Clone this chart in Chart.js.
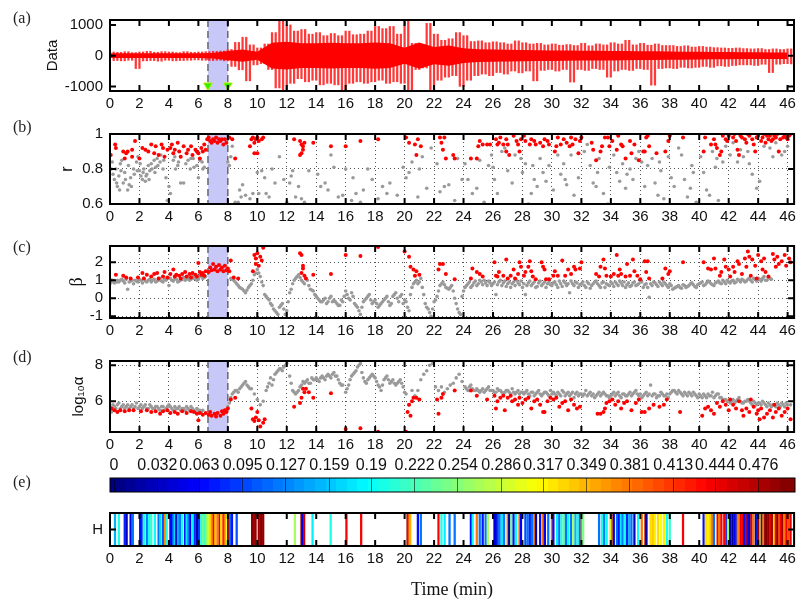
<!DOCTYPE html>
<html>
<head>
<meta charset="utf-8">
<script src="https://cdn.jsdelivr.net/npm/chart.js@4.4.1/dist/chart.umd.min.js"></script>
<style>
body{margin:0;background:#fff;}
#wrap{position:relative;width:800px;height:601px;overflow:hidden;background:#fff;}
#wrap canvas{position:absolute;left:0;}
.lbl{position:absolute;left:13px;font:16px "Liberation Serif",serif;line-height:16px;color:#222;}
</style>
</head>
<body>
<div id="wrap">
  <canvas id="ca" style="top:4px" width="800" height="111"></canvas>
  <canvas id="cb" style="top:118px" width="800" height="110"></canvas>
  <canvas id="cc" style="top:230px" width="800" height="112"></canvas>
  <canvas id="cd" style="top:345px" width="800" height="111"></canvas>
  <canvas id="cbar" style="top:455px" width="800" height="39"></canvas>
  <canvas id="ce" style="top:497px" width="800" height="104"></canvas>
  <div class="lbl" style="top:10px">(a)</div>
  <div class="lbl" style="top:119px">(b)</div>
  <div class="lbl" style="top:239px">(c)</div>
  <div class="lbl" style="top:349px">(d)</div>
  <div class="lbl" style="top:474px">(e)</div>
</div>
<script>
// ================= DATA =================
const X_MAX = 46.44;
const xTicks = [0,2,4,6,8,10,12,14,16,18,20,22,24,26,28,30,32,34,36,38,40,42,44,46];
const bandFrom = 6.65, bandTo = 8.0;

// (a) signal: extremes every 15 s (alternating upper / lower peak), and dense core half-width per minute
const SIG_STEP = 0.25;
const sigPeaks = [
  120,-160,110,-170,130,-150,100,-420,120,-170,140,-160,110,-180,130,-150,120,-170,100,-160,
  130,-150,110,-140,120,-150,130,-160,140,-150,150,-170,200,-350,430,-460,600,-820,350,-300,
  250,-260,380,-450,750,-1050,1150,-1120,1000,-900,800,-750,850,-850,700,-800,750,-950,650,-900,
  720,-950,650,-1130,800,-900,680,-850,700,-900,800,-850,950,-800,880,-900,950,-850,700,-900,
  1150,-1150,400,-450,350,-400,1050,-1150,700,-800,500,-700,550,-650,750,-1000,650,-800,460,-650,
  480,-600,420,-650,450,-550,420,-600,380,-500,480,-560,420,-500,380,-820,400,-480,350,-450,
  380,-500,340,-450,360,-860,330,-450,400,-480,320,-420,380,-450,350,-700,420,-500,380,-450,
  500,-480,350,-420,400,-450,340,-960,380,-420,330,-400,330,-420,300,-380,320,-400,280,-380,
  300,-350,280,-380,260,-330,250,-350,240,-320,250,-300,230,-300,220,-320,230,-280,200,-550,
  220,-280,200,-260,220,-270
];
const coreAmp = [80,80,80,80,80,80,80,90,150,200,130,420,450,400,400,420,400,400,430,400,
  260,430,280,330,240,210,200,190,180,175,170,165,160,160,155,150,145,140,135,130,125,120,115,
  110,110,105,105];
const greenMarks = [[6.65,-970],[8.0,-970]];

// (b) r
const rRed = [
  [0.05,0.88],[0.35,0.94],[0.4,0.92],[0.9,0.9],[1.0,0.86],[1.1,0.89],[1.2,0.9],[1.5,0.91],[1.5,0.87],[1.7,0.96],
  [2.0,0.86],[2.2,0.92],[2.4,0.91],[2.6,0.9],[2.8,0.94],[3.0,0.89],[3.1,0.93],[3.3,0.88],[3.5,0.94],[3.6,0.92],[3.7,0.87],[3.9,0.91],
  [4.1,0.92],[4.2,0.94],[4.3,0.89],[4.4,0.91],[4.6,0.95],[4.7,0.9],[4.8,0.87],[5.0,0.93],[5.2,0.89],[5.3,0.91],[5.5,0.93],[5.6,0.88],[5.8,0.91],[5.9,0.9],[6.0,0.89],
  [6.1,0.86],[6.2,0.92],[6.3,0.9],[6.4,0.94],[6.5,0.91],[6.6,0.97],[6.7,0.98],[6.8,0.96],[6.9,0.95],[7.0,0.97],[7.1,0.96],[7.2,0.98],[7.3,0.95],
  [7.4,0.97],[7.5,0.96],[7.6,0.97],[7.7,0.94],[7.8,0.97],[7.9,0.95],[8.1,0.98],[8.3,0.97],
  [8.5,0.86],[9.5,0.93],[9.6,0.97],[9.7,0.98],[9.8,0.95],[9.9,0.97],[10.0,0.98],[10.1,0.96],[10.3,0.97],[10.4,0.98],[9.8,0.89],[10.0,0.89],
  [12.5,0.97],[12.9,0.96],[13.0,0.94],[13.1,0.93],[13.1,0.91],[13.0,0.89],[12.9,0.88],[13.2,0.95],[13.8,0.95],
  [15.0,0.93],[16.0,0.93],[17.0,0.96],[18.2,0.97],[20.1,0.98],[20.3,0.95],[20.7,0.94],[20.9,0.97],[21.1,0.93],[20.8,0.88],
  [22.4,0.98],[22.5,0.95],[22.7,0.98],[22.6,0.91],[22.8,0.86],[23.3,0.88],[23.4,0.86],
  [24.5,0.86],[24.9,0.86],[25.0,0.93],[25.1,0.96],[25.3,0.94],[25.6,0.94],[25.8,0.94],
  [26.2,0.97],[26.3,0.94],[26.4,0.95],[26.5,0.98],[26.7,0.94],[26.9,0.97],[27.0,0.94],[26.9,0.9],[27.1,0.88],[27.4,0.99],[27.6,0.96],[27.7,0.94],[27.8,0.9],[27.9,0.97],
  [28.1,0.99],[28.2,0.96],[28.5,0.94],[28.6,0.97],[28.8,0.96],[28.9,0.94],[29.2,0.95],[29.4,0.93],[29.5,0.97],[29.7,0.96],[29.8,0.94],
  [30.2,0.9],[30.3,0.93],[30.4,0.98],[30.6,0.94],[30.8,0.97],[31.0,0.95],[31.2,0.93],[31.3,0.98],[31.4,0.94],[31.6,0.97],[31.8,0.89],[31.9,0.96],[32.0,0.98],
  [32.7,0.95],[32.8,0.91],[33.0,0.85],[33.3,0.9],[33.4,0.93],[33.6,0.98],[33.8,0.98],[33.9,0.93],[34.1,0.96],
  [34.4,0.91],[34.5,0.99],[34.7,0.94],[34.8,0.93],[35.0,0.86],[35.3,0.96],[35.4,0.89],[35.6,0.94],[35.9,0.85],[36.2,0.9],
  [36.4,0.98],[36.5,0.99],[36.3,0.9],[36.6,0.93],[37.1,0.89],[37.7,0.9],[37.9,0.96],[38.0,0.99],[38.9,0.98],
  [40.3,0.9],[40.4,0.98],[40.8,0.94],[41.0,0.97],[41.1,0.94],[41.2,0.92],[41.4,0.88],[41.5,0.9],[41.6,0.99],[41.8,0.97],[41.9,0.96],[42.0,0.99],
  [42.3,0.98],[42.5,0.96],[42.6,0.91],[42.7,0.88],[42.8,0.99],[43.1,0.97],[43.2,0.95],[43.4,0.99],[43.6,0.97],[43.7,0.94],[43.8,0.9],[44.0,0.99],
  [44.2,0.96],[44.3,0.98],[44.5,0.95],[44.6,0.99],[44.7,0.97],[44.9,0.96],[45.1,0.99],[45.2,0.98],[45.4,0.9],[45.5,0.97],[45.8,0.99],[45.9,0.98],
  [46.1,0.99],[46.2,1.0],[42.4,1.0],[42.9,0.98],[43.3,1.0],[43.9,0.98],[44.4,1.0],[44.8,0.99],[45.0,0.97],[45.3,1.0],[45.7,0.98],[46.0,0.97]
];
const rGray = [
  [0.1,0.8],[0.2,0.77],[0.3,0.74],[0.4,0.8],[0.5,0.7],[0.6,0.76],[0.7,0.83],[0.8,0.85],[0.9,0.72],[1.0,0.78],[1.2,0.68],[1.3,0.71],[1.4,0.75],[1.6,0.8],[1.8,0.84],[1.9,0.87],
  [2.0,0.79],[2.1,0.76],[2.2,0.74],[2.3,0.8],[2.4,0.73],[2.5,0.77],[2.6,0.82],[2.7,0.79],[2.8,0.83],[3.0,0.85],[3.1,0.81],[3.2,0.86],[3.4,0.84],[3.6,0.8],[3.8,0.75],[3.9,0.62],[4.0,0.7],[4.1,0.66],
  [4.3,0.85],[4.4,0.87],[4.6,0.82],[4.8,0.72],[5.0,0.72],[5.3,0.85],[5.5,0.86],[5.7,0.81],[5.9,0.82],[6.0,0.75],[6.1,0.85],[6.3,0.8],[6.4,0.81],
  [0.15,0.84],[0.45,0.72],[0.65,0.68],[0.75,0.79],[1.05,0.74],[1.25,0.82],[1.45,0.7],[1.65,0.77],[1.85,0.79],[2.05,0.83],[2.25,0.78],[2.45,0.76],
  [2.65,0.74],[2.85,0.8],[3.05,0.78],[3.25,0.82],[3.45,0.88],[3.65,0.85],[4.45,0.8],[4.65,0.84],[5.15,0.83],[5.45,0.8],[5.65,0.86],[6.25,0.84],
  [8.0,0.84],[8.1,0.82],[8.2,0.87],[8.3,0.93],[8.5,0.61],[8.7,0.61],[8.8,0.68],[8.9,0.64],[9.0,0.71],[9.2,0.65],[9.5,0.63],[9.7,0.66],[10.0,0.78],[10.1,0.66],[10.3,0.79],
  [10.5,0.75],[10.6,0.66],[10.8,0.64],[11.0,0.8],[11.2,0.72],[11.5,0.87],[11.8,0.74],[12.0,0.61],[12.2,0.72],[12.3,0.76],[12.4,0.79],[12.6,0.64],[12.8,0.7],[13.0,0.63],[13.2,0.61],[13.5,0.79],
  [14.1,0.77],[14.3,0.7],[14.6,0.72],[14.8,0.68],[15.0,0.88],[15.2,0.81],[15.5,0.64],[15.8,0.65],[16.0,0.8],[16.4,0.62],[16.5,0.75],[16.7,0.66],[17.0,0.61],[17.2,0.68],[17.5,0.8],[17.8,0.74],
  [18.2,0.63],[18.5,0.7],[18.8,0.66],[19.0,0.72],[19.5,0.65],[19.9,0.81],
  [20.1,0.75],[20.3,0.78],[20.5,0.84],[20.9,0.64],[21.0,0.8],[21.2,0.87],[21.5,0.69],[21.8,0.92],[22.2,0.83],[22.4,0.67],[22.7,0.7],[23.0,0.71],[23.4,0.62],[23.6,0.86],[23.9,0.74],
  [24.1,0.83],[24.3,0.74],[24.6,0.66],[24.9,0.69],[25.1,0.85],[25.4,0.61],[25.7,0.82],[25.9,0.88],
  [26.0,0.81],[26.1,0.74],[26.3,0.66],[26.6,0.9],[26.8,0.92],[27.0,0.79],[27.3,0.72],[27.5,0.88],[27.9,0.86],[28.0,0.78],
  [28.2,0.83],[28.4,0.6],[28.6,0.66],[28.7,0.82],[28.8,0.74],[29.0,0.7],[29.2,0.86],[29.4,0.78],[29.6,0.73],[29.8,0.82],
  [30.1,0.68],[30.4,0.88],[30.6,0.77],[30.8,0.83],[30.9,0.74],[31.0,0.71],[31.3,0.88],[31.5,0.65],[31.8,0.75],
  [32.2,0.9],[32.4,0.94],[32.6,0.82],[32.8,0.72],[33.0,0.7],[33.1,0.78],[33.2,0.86],[33.5,0.66],[33.8,0.6],[33.9,0.81],
  [34.2,0.88],[34.4,0.78],[34.6,0.73],[34.8,0.83],[35.0,0.69],[35.1,0.77],[35.3,0.8],[35.5,0.74],[35.7,0.86],[35.9,0.9],
  [36.1,0.84],[36.3,0.7],[36.5,0.82],[36.8,0.86],[37.0,0.72],[37.2,0.65],[37.3,0.84],[37.4,0.79],[37.6,0.63],[37.9,0.87],
  [38.1,0.75],[38.3,0.7],[38.6,0.92],[38.8,0.88],[39.0,0.74],[39.2,0.64],[39.4,0.69],[39.5,0.82],[39.6,0.78],[39.8,0.61],
  [40.1,0.87],[40.3,0.78],[40.5,0.68],[40.7,0.65],[40.9,0.9],[41.1,0.81],[41.2,0.86],[41.3,0.62],[41.6,0.84],[41.8,0.93],
  [42.1,0.88],[42.3,0.95],[42.6,0.84],[42.8,0.91],[43.0,0.87],[43.3,0.9],[43.4,0.83],[43.6,0.77],[43.9,0.69],[44.1,0.73],
  [44.4,0.93],[44.8,0.92],[45.0,0.87],[45.2,0.95],[45.6,0.88],[45.8,0.9],[46.0,0.93]
];

// (c) beta
const bRed = [
  [0.0,1.0],[0.4,1.3],[0.9,1.25],[1.1,1.15],[1.4,1.1],[1.9,1.15],[2.2,1.4],[2.3,1.1],[2.5,1.3],[2.8,1.2],[3.0,1.35],[3.2,1.4],[3.3,1.1],[3.6,1.2],[3.7,1.45],[3.9,1.15],
  [4.1,1.35],[4.3,1.6],[4.4,1.2],[4.5,1.3],[4.7,1.25],[4.8,1.1],[4.9,1.35],[5.1,1.45],[5.2,1.2],[5.4,1.35],[5.5,1.15],[5.6,1.4],[5.8,1.3],[5.9,1.2],[6.0,1.95],
  [6.1,1.45],[6.2,1.3],[6.3,1.4],[6.4,1.25],[6.5,1.5],[6.7,1.45],[6.8,1.7],[6.9,1.55],[7.0,1.9],[7.1,1.6],[7.2,1.75],[7.3,1.5],[7.4,1.85],[7.5,1.6],[7.6,1.7],
  [7.7,1.5],[7.8,1.8],[7.9,1.55],[8.0,1.65],[8.1,1.5],[8.2,2.1],[8.4,1.15],[8.7,1.1],[9.7,1.5],[9.8,2.4],[9.9,2.2],[10.0,2.5],[10.1,1.8],[10.2,2.3],[10.3,2.1],[10.4,2.8],[9.9,1.9],
  [12.9,2.5],[13.0,2.4],[13.1,1.8],[13.1,1.65],[13.0,1.4],[13.2,1.25],[13.3,1.1],[13.8,1.3],[15.0,1.35],[16.0,2.4],[17.0,2.35],[18.2,2.85],
  [20.0,2.6],[20.3,2.3],[20.4,1.75],[20.6,1.6],[20.8,1.5],[21.0,1.3],[20.7,1.25],[22.3,1.6],[22.4,1.9],[22.6,1.9],[22.8,1.35],[23.4,1.05],
  [24.5,1.1],[24.6,1.65],[24.9,1.45],[25.1,1.35],[25.3,1.2],
  [26.1,2.0],[26.2,1.25],[26.3,1.2],[26.4,1.45],[26.7,1.25],[26.9,2.15],[27.0,1.1],[27.2,1.25],[27.4,1.6],[27.5,1.1],[27.7,1.35],[27.8,2.0],[27.9,1.75],
  [28.1,1.25],[28.2,1.45],[28.4,1.75],[28.5,2.05],[28.6,1.5],[28.7,1.2],[28.9,1.05],[29.3,2.0],[29.4,1.75],[29.5,1.6],[29.6,1.05],[29.8,1.05],
  [30.1,1.25],[30.2,1.5],[30.4,1.25],[30.7,2.1],[30.9,1.25],[31.1,1.6],[31.3,1.35],[31.5,1.75],[31.6,1.6],[31.9,1.65],[32.0,2.0],
  [33.0,1.35],[33.2,1.2],[33.3,1.75],[33.5,2.15],[33.6,1.65],[33.7,1.25],[34.0,1.2],[34.2,1.35],[34.4,2.4],
  [34.5,1.25],[34.6,1.6],[34.7,1.35],[35.0,1.2],[35.1,1.9],[35.3,1.25],[35.5,2.15],[35.6,1.5],[35.8,1.25],[36.0,1.05],
  [36.3,2.05],[36.5,2.05],[36.4,1.45],[36.6,1.1],[37.5,1.1],[37.7,1.65],[37.9,1.35],[38.0,1.5],[38.9,2.0],
  [40.3,2.0],[40.6,1.65],[40.8,1.6],[41.0,2.2],[41.1,1.65],[41.4,1.25],[41.5,1.45],[41.7,2.15],[41.8,1.75],[42.0,1.6],[42.1,1.2],
  [42.3,1.75],[42.4,1.45],[42.6,2.05],[42.7,1.9],[42.9,1.35],[43.1,2.2],[43.2,1.75],[43.3,2.6],[43.4,2.3],[43.5,1.25],[43.6,2.15],[43.8,1.8],[43.9,1.1],[44.0,2.4],
  [44.2,2.05],[44.3,1.6],[44.4,2.2],[44.5,1.45],[44.7,1.2],[45.0,2.45],[45.1,2.15],[45.2,1.75],[45.3,2.3],[45.4,1.9],[45.6,2.05],[45.8,2.4],[45.9,1.8],[46.1,2.2],[46.2,2.0]
];
const bGray = [
  [0.0,0.8],[0.1,0.9],[0.2,1.0],[0.3,0.85],[0.5,1.0],[0.6,0.9],[0.8,1.05],[0.9,0.95],[1.0,0.85],[1.2,0.5],[1.3,0.9],[1.5,1.0],[1.6,0.8],[1.8,0.95],[2.0,1.05],
  [2.2,0.85],[2.4,0.95],[2.6,1.0],[2.8,0.9],[3.0,1.05],[3.2,0.95],[3.4,1.1],[3.6,0.9],[3.8,1.0],[4.0,0.7],[4.1,1.1],[4.3,0.95],[4.5,1.05],[4.7,0.95],[4.9,1.1],
  [5.1,1.0],[5.3,1.15],[5.5,1.05],[5.7,1.1],[5.9,1.0],[6.1,1.2],[6.3,1.1],[6.5,1.2],
  [0.05,1.0],[0.25,0.95],[0.45,0.9],[0.7,1.0],[1.1,1.05],[1.4,0.95],[1.7,1.0],[1.9,0.9],[2.1,1.0],[2.3,1.1],[2.5,0.9],[2.7,1.05],[2.9,1.0],[3.1,0.9],
  [3.3,1.0],[3.5,0.95],[3.7,1.05],[3.9,1.1],[4.2,1.0],[4.4,1.1],[4.6,0.9],[4.8,1.0],[5.0,1.15],[5.2,1.05],[5.4,1.0],[5.6,1.2],[5.8,1.1],[6.0,1.05],[6.2,1.25],[6.4,1.15],
  [8.2,1.1],[8.4,1.0],[8.6,0.8],[8.8,0.6],[9.0,0.5],[9.2,0.3],[9.4,0.6],[9.6,0.8],[9.8,1.3],[10.0,1.6],[10.2,1.2],[10.4,0.7],[10.5,0.2],[10.7,0.0],[10.9,-0.3],
  [8.3,1.05],[8.5,0.9],[8.7,0.7],[8.9,0.55],[9.1,0.4],[9.3,0.45],[9.5,0.7],[9.7,1.0],[9.9,1.4],[10.1,1.4],[10.3,0.9],[10.6,0.1],[10.8,-0.1],
  [11.1,-0.6],[11.3,-0.8],[11.5,-0.5],[11.7,-0.3],[11.9,-0.9],[12.0,-0.7],[12.2,0.3],[12.4,0.8],[12.6,1.1],[12.8,1.3],[13.0,1.0],[13.2,0.8],[13.4,1.0],[13.6,0.5],[13.8,0.4],
  [11.0,-0.4],[11.2,-0.7],[11.4,-0.9],[11.6,-0.4],[11.8,-0.6],[12.1,-0.2],[12.3,0.5],[12.5,1.0],[12.7,1.2],[12.9,1.15],[13.1,0.9],[13.3,1.1],[13.5,0.7],[13.7,0.45],[13.9,0.2],
  [14.0,0.1],[14.2,-0.1],[14.4,-0.2],[14.6,0.0],[14.8,-0.2],[15.0,0.1],[15.2,-0.1],[15.4,-0.3],[15.6,-0.4],[15.8,-0.2],[16.0,0.4],[16.2,0.0],[16.4,0.3],[16.6,-0.3],
  [14.1,0.0],[14.3,-0.2],[14.5,-0.1],[14.7,-0.3],[14.9,0.0],[15.1,-0.2],[15.3,-0.2],[15.5,-0.4],[15.7,-0.1],[15.9,0.1],[16.1,0.2],[16.3,-0.1],[16.5,0.1],[16.7,-0.4],
  [16.8,-0.5],[17.0,-0.9],[17.2,-0.2],[17.4,0.0],[17.6,0.2],[17.8,-0.3],[18.0,-0.1],[18.2,-0.5],[18.4,-0.3],[18.6,-0.1],[18.8,0.1],[19.0,-0.4],[19.2,0.1],[19.4,0.3],
  [16.9,-0.7],[17.1,-0.5],[17.3,-0.1],[17.5,0.1],[17.7,-0.1],[17.9,-0.2],[18.1,-0.3],[18.3,-0.4],[18.5,-0.2],[18.7,0.0],[18.9,-0.2],[19.1,-0.3],[19.3,0.2],[19.5,0.0],
  [19.6,-0.2],[19.8,0.2],[20.0,-0.1],[19.7,0.1],[19.9,-0.3],
  [20.1,-0.2],[20.2,-0.5],[20.3,-0.7],[20.5,0.6],[20.7,0.9],[20.9,0.8],[21.1,1.1],[21.3,0.2],[21.4,-0.3],[21.6,-0.6],[21.8,-1.0],[22.0,-0.2],[22.2,0.1],[22.4,0.7],
  [20.4,0.2],[20.6,0.8],[20.8,1.0],[21.0,0.9],[21.2,0.6],[21.5,-0.5],[21.7,-0.8],[21.9,-0.6],[22.1,-0.1],[22.3,0.4],[22.5,0.8],[22.7,0.75],[22.9,0.55],
  [22.6,0.9],[22.8,0.6],[23.0,0.5],[23.2,0.7],[23.5,-0.3],[23.6,-0.6],[23.8,-0.9],[24.0,0.4],[24.2,0.7],
  [23.1,0.6],[23.3,0.4],[23.4,0.0],[23.7,-0.8],[23.9,0.1],[24.1,0.6],
  [24.4,0.9],[24.6,0.7],[24.8,0.95],[25.0,0.8],[25.2,0.9],[25.4,1.0],[25.6,0.7],[25.8,0.85],[26.0,0.8],[26.2,0.2],[26.4,0.9],[26.6,0.7],[26.8,0.95],[27.0,0.8],
  [27.2,0.6],[27.4,0.9],[27.6,1.0],[27.8,0.75],[28.0,0.6],[28.2,0.2],[28.4,0.85],[28.6,0.7],[28.8,0.9],[29.0,0.65],[29.2,0.95],[29.4,0.8],[29.6,0.6],[29.8,0.9],[30.0,0.7],
  [30.2,0.9],[30.4,0.6],[30.6,0.8],[30.8,0.95],[31.0,0.7],[31.2,0.3],[31.4,0.8],[31.6,0.9],[31.8,0.6],[32.0,0.8],[32.2,0.7],[32.4,0.9],[32.6,0.55],[32.8,0.8],
  [33.0,0.95],[33.2,0.7],[33.4,0.85],[33.6,0.6],[33.8,0.75],[34.0,0.9],[34.2,0.65],[34.4,0.8],[34.6,0.95],[34.8,0.7],[35.0,0.6],[35.2,0.85],[35.4,0.7],[35.6,0.9],
  [35.8,0.75],[36.0,0.95],[36.2,0.6],[36.4,0.8],[36.6,0.05],[36.8,0.7],[37.0,0.85],[37.2,0.65],[37.4,0.8],[37.6,0.9],[37.8,0.7],[38.0,0.8],
  [24.3,0.8],[24.5,0.6],[24.7,0.85],[24.9,0.7],[25.1,1.0],[25.3,0.75],[25.5,0.85],[25.7,0.95],[25.9,0.7],[26.1,0.9],[26.3,0.75],[26.5,1.0],[26.7,0.85],[26.9,0.65],
  [27.1,0.9],[27.3,0.8],[27.5,0.7],[27.7,0.85],[27.9,0.95],[28.1,0.8],[28.3,0.7],[28.5,0.95],[28.7,0.8],[28.9,0.6],[29.1,0.85],[29.3,0.7],[29.5,0.9],[29.7,0.8],
  [29.9,0.75],[30.1,0.85],[30.3,0.75],[30.5,0.95],[30.7,0.65],[30.9,0.85],[31.1,0.8],[31.3,0.95],[31.5,0.7],[31.7,0.85],[31.9,0.75],[32.1,0.9],[32.3,0.6],[32.5,0.8],
  [32.7,0.7],[32.9,0.9],[33.1,0.8],[33.3,0.6],[33.5,0.9],[33.7,0.8],[33.9,0.7],[34.1,0.8],[34.3,0.9],[34.5,0.7],[34.7,0.85],[34.9,0.9],[35.1,0.75],[35.3,0.65],
  [35.5,0.85],[35.7,0.7],[35.9,0.8],[36.1,0.9],[36.3,0.75],[36.5,0.6],[36.7,0.8],[36.9,0.9],[37.1,0.75],[37.3,0.9],[37.5,0.7],[37.7,0.8],[37.9,0.6],
  [38.2,0.5],[38.4,0.6],[38.6,0.7],[38.8,0.55],[39.0,0.7],[39.2,0.65],[39.4,0.8],[39.6,0.75],[39.8,0.6],[40.0,0.8],[40.2,0.9],[40.4,0.75],[40.6,0.95],[40.8,0.8],
  [41.0,0.7],[41.2,0.9],[41.4,0.85],[41.6,1.0],[41.8,0.8],[42.0,0.9],[42.2,0.95],[42.4,0.85],[42.6,1.05],[42.8,0.9],[43.0,1.0],[43.2,0.95],[43.4,1.1],[43.6,0.9],
  [43.8,1.05],[44.0,1.1],[44.2,0.95],[44.4,1.2],[44.6,1.0],[44.8,1.1],
  [38.1,0.7],[38.3,0.55],[38.5,0.65],[38.7,0.6],[38.9,0.75],[39.1,0.6],[39.3,0.7],[39.5,0.85],[39.7,0.65],[39.9,0.75],[40.1,0.85],[40.3,0.7],[40.5,0.85],
  [40.7,0.9],[40.9,0.75],[41.1,0.85],[41.3,0.95],[41.5,0.8],[41.7,0.9],[41.9,1.0],[42.1,0.85],[42.3,1.0],[42.5,0.9],[42.7,1.0],[42.9,1.05],[43.1,0.9],
  [43.3,1.05],[43.5,1.0],[43.7,1.1],[43.9,0.95],[44.1,1.05],[44.3,1.1],[44.5,1.0],[44.7,1.15],[44.9,1.05]
];

// (d) log10 alpha
const aRed = [
  [0.1,5.6],[0.3,5.5],[0.5,5.4],[0.7,5.5],[1.0,5.45],[1.3,5.5],[1.6,5.5],[2.1,5.45],[2.5,5.5],[2.8,5.4],[3.1,5.45],[3.4,5.3],[3.6,5.45],[3.9,5.5],[4.1,5.35],
  [4.4,5.4],[4.6,5.3],[4.9,5.45],[5.2,5.35],[5.5,5.45],[5.7,5.4],[5.9,5.3],[6.0,4.95],[6.1,5.35],[6.3,5.25],[6.5,5.35],[6.7,5.25],[6.8,5.4],[6.9,5.2],[7.1,5.3],
  [7.2,5.15],[7.3,5.35],[7.5,5.2],[7.6,5.45],[7.7,5.3],[7.8,5.5],[7.9,5.4],[8.0,5.6],[8.2,6.1],[8.5,6.2],[9.6,5.6],[9.7,5.0],[9.8,4.9],[9.9,5.1],[10.0,5.4],
  [10.1,4.95],[10.2,4.6],[10.4,4.8],[10.5,5.0],[12.5,5.7],[12.9,5.9],[13.1,6.7],[13.2,6.5],[13.3,6.7],[13.0,6.2],[13.5,6.5],[13.8,6.2],[15.0,6.45],
  [16.0,4.45],[17.0,4.5],[18.2,4.3],[20.1,4.3],
  [20.2,5.4],[20.3,5.8],[20.5,6.0],[20.6,6.2],[20.8,6.2],[21.0,6.1],[20.4,5.2],[22.2,6.1],[22.3,5.3],[22.5,6.2],[22.6,6.4],[23.4,6.6],[24.5,6.6],[24.9,6.3],[25.6,6.1],
  [26.1,6.3],[26.2,5.6],[26.3,6.0],[26.5,6.2],[26.7,6.3],[26.8,5.5],[27.0,6.2],[27.2,6.3],[27.3,6.0],[27.5,6.1],[27.7,5.8],[27.8,6.2],[28.0,5.9],
  [28.2,6.1],[28.4,6.2],[28.6,5.6],[28.8,6.0],[29.0,6.1],[29.2,5.8],[29.4,5.4],[29.5,5.4],[29.7,6.0],[29.9,6.2],
  [30.1,6.1],[30.3,6.2],[30.5,5.7],[30.7,5.9],[30.9,6.0],[31.1,5.5],[31.3,6.1],[31.5,5.8],[31.7,5.6],[31.9,5.7],
  [33.1,5.3],[33.3,5.3],[33.5,5.4],[33.6,5.6],[33.7,5.9],[33.9,6.0],[34.1,6.1],
  [34.3,5.8],[34.5,6.0],[34.7,5.6],[34.9,5.9],[35.1,6.0],[35.4,5.5],[35.7,5.9],[35.9,6.1],
  [36.1,5.4],[36.3,5.4],[36.6,5.6],[36.9,5.8],[37.3,5.7],[37.6,5.8],[37.8,6.1],[38.7,5.4],
  [40.2,5.2],[40.4,5.6],[40.6,5.7],[40.8,5.5],[41.0,5.3],[41.2,5.9],[41.4,5.7],[41.6,6.0],[41.8,5.8],[42.0,5.5],
  [42.1,6.1],[42.3,5.8],[42.5,5.6],[42.7,6.0],[42.9,5.5],[43.0,5.2],[43.2,5.6],[43.4,5.4],[43.5,6.1],[43.7,5.7],[43.9,5.3],[44.0,5.5],
  [44.2,5.6],[44.4,5.1],[44.6,5.3],[44.8,5.5],[45.0,5.1],[45.2,5.4],[45.4,5.6],[45.6,5.2],[45.8,5.4],[46.0,5.6],[46.2,5.0],[45.1,5.8],[44.1,5.0]
];
const aGray = [
  [0.0,5.7],[0.1,5.4],[0.2,5.8],[0.4,5.6],[0.6,5.9],[0.8,5.7],[1.0,5.6],[1.2,5.8],[1.4,5.7],[1.6,5.6],[1.8,5.9],[2.0,5.7],[2.2,5.6],[2.4,5.8],[2.6,5.6],
  [2.8,5.7],[3.0,5.6],[3.2,5.7],[3.4,5.5],[3.6,5.7],[3.8,5.6],[4.0,5.8],[4.2,5.6],[4.4,5.7],[4.6,5.6],[4.8,5.5],[5.0,5.6],[5.2,5.7],[5.4,5.5],[5.6,5.6],
  [5.8,5.4],[6.0,5.5],[6.2,5.4],
  [0.3,5.7],[0.5,5.8],[0.7,5.6],[0.9,5.8],[1.1,5.7],[1.3,5.6],[1.5,5.8],[1.7,5.7],[1.9,5.6],[2.1,5.8],[2.3,5.7],[2.5,5.6],[2.7,5.8],[2.9,5.6],[3.1,5.7],
  [3.3,5.6],[3.5,5.7],[3.7,5.5],[3.9,5.7],[4.1,5.7],[4.3,5.5],[4.5,5.6],[4.7,5.7],[4.9,5.6],[5.1,5.5],[5.3,5.6],[5.5,5.7],[5.7,5.5],[5.9,5.6],[6.1,5.5],[6.3,5.5],
  [8.0,5.7],[8.2,6.2],[8.4,6.5],[8.6,6.6],[8.8,6.7],[9.0,6.9],[9.2,7.1],[9.4,6.8],[9.6,6.7],[9.8,6.4],[10.0,6.1],[10.2,5.8],[10.4,6.0],[10.6,6.6],[10.8,7.0],
  [8.1,5.9],[8.3,6.4],[8.5,6.6],[8.7,6.5],[8.9,6.8],[9.1,7.0],[9.3,6.9],[9.5,6.7],[10.7,6.8],[10.9,7.3],
  [11.0,6.9],[11.2,7.5],[11.4,7.7],[11.6,7.8],[11.8,7.9],[12.0,8.1],[12.2,7.4],[12.4,6.6],[12.6,6.4],[12.8,6.6],[13.0,6.9],
  [11.1,7.2],[11.3,7.6],[11.5,7.8],[11.7,7.7],[11.9,8.0],[12.3,7.0],[12.5,6.5],[12.7,6.5],[12.9,6.8],
  [13.2,7.0],[13.4,7.2],[13.6,7.0],[13.8,7.2],[14.0,7.3],[14.2,7.1],[14.4,7.4],[14.6,7.2],[14.8,7.5],[15.0,7.3],[15.2,7.6],[15.4,7.4],[15.6,7.0],[15.8,6.9],
  [13.1,7.1],[13.3,7.1],[13.5,7.0],[13.7,7.3],[13.9,7.2],[14.1,7.2],[14.3,7.3],[14.5,7.3],[14.7,7.4],[14.9,7.4],[15.1,7.5],[15.3,7.4],[15.5,7.2],[15.7,6.9],
  [16.0,6.5],[16.2,6.9],[16.4,7.4],[16.6,7.6],[16.8,7.9],[17.0,8.1],[17.2,7.3],[17.4,7.0],[17.6,7.3],[17.8,7.5],[18.0,7.3],[18.2,6.9],[18.4,6.6],[18.6,7.2],
  [16.1,6.7],[16.3,7.2],[16.5,7.5],[16.7,7.7],[16.9,8.0],[17.1,7.6],[17.3,7.1],[17.5,7.2],[17.7,7.4],[17.9,7.4],[18.1,7.1],[18.3,6.8],[18.5,6.9],
  [18.8,7.4],[19.0,7.0],[19.2,7.2],[19.4,6.9],[19.6,7.1],[19.8,7.0],[20.0,6.5],
  [18.7,7.3],[18.9,7.2],[19.1,7.1],[19.3,7.0],[19.5,7.0],[19.7,7.2],[19.9,6.8],
  [20.1,6.4],[20.3,5.8],[20.5,6.6],[20.7,6.3],[20.9,6.6],[21.1,7.2],[21.3,7.5],[21.5,7.7],[21.7,8.0],[21.9,8.1],[22.1,6.8],[22.3,6.6],[22.5,6.8],[22.7,6.5],
  [22.9,6.7],[23.1,6.9],[23.3,7.0],[23.5,7.3],[23.7,7.5],[23.9,7.1],[24.1,6.8],[24.3,6.6],[24.5,6.9],[24.7,6.6],[24.9,6.7],[25.1,6.5],[25.3,6.7],[25.5,6.6],
  [25.7,6.8],[25.9,6.6],[26.1,6.5],[26.3,6.7],[26.5,6.6],[26.7,6.4],[26.9,6.6],[27.1,6.5],[27.3,6.7],[27.5,6.4],[27.7,6.6],[27.9,6.5],[28.1,6.4],[28.3,6.6],
  [28.5,6.3],[28.7,6.5],[28.9,6.4],[29.1,6.6],[29.3,6.3],[29.5,6.5],[29.7,6.4],[29.9,6.6],[30.1,6.5],[30.3,6.3],[30.5,6.4],[30.7,6.6],[30.9,6.3],[31.1,6.5],
  [31.3,6.4],[31.5,6.2],[31.7,6.5],[31.9,6.4],[32.1,6.3],[32.3,6.6],[32.5,6.4],[32.7,6.3],[32.9,6.2],[33.1,6.4],[33.3,6.3],[33.5,6.5],[33.7,6.3],[33.9,6.2],
  [34.1,6.4],[34.3,6.3],[34.5,6.5],[34.7,6.2],[34.9,6.4],[35.1,6.3],[35.3,6.5],[35.5,6.4],[35.7,6.6],[35.9,6.3],[36.1,6.2],[36.3,6.4],[36.5,6.3],[36.7,6.9],
  [36.9,6.4],[37.1,6.2],[37.3,6.3],[37.5,6.4],[37.7,6.3],[37.9,6.2],[38.1,6.5],[38.3,6.6],[38.5,6.4],[38.7,6.5],[38.9,6.3],[39.1,6.4],[39.3,6.5],[39.5,6.3],
  [39.7,6.4],[39.9,6.2],[40.1,6.3],[40.3,6.4],[40.5,6.2],[40.7,6.3],[40.9,6.5],[41.1,6.3],[41.3,6.4],[41.5,6.2],[41.7,6.1],[41.9,6.0],[42.1,5.9],[42.3,6.1],
  [42.5,6.0],[42.7,6.2],[42.9,5.9],[43.1,6.0],[43.3,6.1],[43.5,5.9],[43.7,6.0],[43.9,5.8],[44.1,5.9],[44.3,6.0],[44.5,5.8],[44.7,5.9],[44.9,5.7],[45.1,5.8],
  [45.3,5.9],[45.5,5.7],[45.7,5.8],[45.9,5.9],
  [24.2,6.7],[24.4,6.8],[24.6,6.7],[24.8,6.6],[25.0,6.6],[25.2,6.6],[25.4,6.5],[25.6,6.7],[25.8,6.6],[26.0,6.6],[26.2,6.5],[26.4,6.6],[26.6,6.5],[26.8,6.5],
  [27.0,6.6],[27.2,6.4],[27.4,6.5],[27.6,6.5],[27.8,6.4],[28.0,6.5],[28.2,6.5],[28.4,6.4],[28.6,6.5],[28.8,6.3],[29.0,6.5],[29.2,6.4],[29.4,6.4],[29.6,6.5],
  [29.8,6.3],[30.0,6.4],[30.2,6.4],[30.4,6.5],[30.6,6.3],[30.8,6.5],[31.0,6.4],[31.2,6.3],[31.4,6.5],[31.6,6.4],[31.8,6.3],[32.0,6.4],[32.2,6.4],[32.4,6.3],
  [32.6,6.5],[32.8,6.4],[33.0,6.3],[33.2,6.5],[33.4,6.4],[33.6,6.4],[33.8,6.3],[34.0,6.3],[34.2,6.5],[34.4,6.4],[34.6,6.3],[34.8,6.4],[35.0,6.3],[35.2,6.4],
  [35.4,6.3],[35.6,6.5],[35.8,6.4],[36.0,6.4],[36.2,6.3],[36.4,6.5],[36.6,6.4],[36.8,6.3],[37.0,6.4],[37.2,6.3],[37.4,6.5],[37.6,6.3],[37.8,6.4],[38.0,6.4],
  [38.2,6.6],[38.4,6.5],[38.6,6.6],[38.8,6.4],[39.0,6.5],[39.2,6.3],[39.4,6.4],[39.6,6.5],[39.8,6.3],[40.0,6.4],[40.2,6.2],[40.4,6.3],[40.6,6.4],[40.8,6.3],
  [41.0,6.2],[41.2,6.4],[41.4,6.2],[41.6,6.1],[41.8,6.1],[42.0,6.0],[42.2,6.0],[42.4,5.9],[42.6,6.1],[42.8,6.0],[43.0,5.9],[43.2,6.0],[43.4,6.0],[43.6,5.8],
  [43.8,5.9],[44.0,5.9],[44.2,5.8],[44.4,5.9],[44.6,5.7],[44.8,5.8],[45.0,5.8],[45.2,5.7],[45.4,5.8],[45.6,5.9],[45.8,5.7],[46.0,5.8],[46.2,5.8]
];

// (e) H stripes [time, H] and colour bar ticks
const H_MAX = 0.5;
const cbTicks = [0,0.032,0.063,0.095,0.127,0.159,0.19,0.222,0.254,0.286,0.317,0.349,0.381,0.413,0.444,0.476];
const hStripes = [
  [0.34,0.15],[0.6,0.2],[1.0,0.08],[1.13,0.03],[1.4,0.06],[1.55,0.12],[2.05,0.06],[2.15,0.08],[2.3,0.2],[2.5,0.12],[2.65,0.2],[2.8,0.21],[3.05,0.19],
  [3.3,0.12],[3.42,0.17],[3.6,0.1],[3.73,0.37],[3.85,0.2],[4.1,0.07],[4.2,0.05],[4.3,0.12],[4.4,0.17],[4.5,0.03],[4.62,0.15],[4.75,0.12],[4.9,0.2],
  [5.1,0.07],[5.2,0.18],[5.32,0.12],[5.45,0.05],[5.58,0.19],[5.75,0.08],[5.9,0.02],[6.05,0.09],[6.2,0.2],[6.32,0.24],[6.45,0.22],[6.58,0.26],[6.7,0.29],
  [6.8,0.33],[6.92,0.37],[7.05,0.44],[7.15,0.34],[7.3,0.38],[7.45,0.45],[7.55,0.33],[7.7,0.42],[7.82,0.38],[7.92,0.3],[8.02,0.48],[8.15,0.12],[8.28,0.07],
  [8.6,0.1],[9.65,0.49],[9.72,0.5],[9.8,0.47],[9.88,0.49],[10.1,0.49],[10.18,0.47],[10.28,0.5],[10.4,0.49],[12.55,0.27],[13.0,0.49],[13.08,0.05],[13.18,0.46],
  [13.75,0.18],[14.98,0.2],[16.05,0.44],[17.05,0.44],[20.2,0.49],[20.28,0.4],[20.38,0.35],[20.9,0.07],[21.1,0.12],[22.3,0.44],[22.5,0.2],[22.72,0.18],
  [23.05,0.12],[23.4,0.12],[24.5,0.07],[24.62,0.19],[24.9,0.38],[25.1,0.12],[25.3,0.07],[25.5,0.12],[25.65,0.27],[26.1,0.05],[26.2,0.03],[26.32,0.09],
  [26.45,0.12],[26.6,0.18],[26.75,0.12],[27.0,0.38],[27.1,0.02],[27.25,0.24],[27.4,0.07],[27.55,0.19],[27.8,0.38],[27.9,0.06],[28.2,0.1],[28.35,0.12],
  [28.5,0.08],[28.65,0.12],[28.8,0.38],[28.92,0.03],[29.2,0.07],[29.4,0.38],[29.52,0.06],[29.75,0.12],[30.0,0.38],[30.1,0.07],[30.35,0.18],[30.5,0.12],
  [30.65,0.2],[30.8,0.24],[30.95,0.12],[31.1,0.19],[31.3,0.12],[31.45,0.27],[31.6,0.15],[31.75,0.2],[31.9,0.12],[32.02,0.38],[32.12,0.25],[33.2,0.12],
  [33.4,0.2],[33.55,0.12],[33.72,0.19],[33.95,0.3],[34.08,0.38],[34.2,0.05],[34.42,0.12],[34.55,0.07],[34.68,0.18],[34.8,0.12],[34.95,0.2],[35.1,0.08],
  [35.25,0.15],[35.4,0.12],[35.6,0.03],[35.85,0.19],[36.1,0.38],[36.35,0.48],[36.42,0.02],[36.7,0.33],[36.85,0.34],[37.0,0.32],[37.2,0.33],[37.4,0.31],
  [37.6,0.32],[37.8,0.19],[38.0,0.21],[38.9,0.44],[40.3,0.07],[40.45,0.33],[40.6,0.32],[40.75,0.34],[40.88,0.38],[41.0,0.12],[41.25,0.44],[41.35,0.38],
  [41.5,0.44],[41.7,0.44],[41.85,0.07],[41.95,0.26],[42.1,0.02],[42.25,0.01],[42.38,0.06],[42.5,0.08],[42.62,0.38],[42.8,0.45],[42.92,0.44],[43.05,0.07],
  [43.18,0.46],[43.3,0.07],[43.42,0.03],[43.55,0.45],[43.68,0.38],[43.85,0.02],[43.95,0.08],[44.05,0.49],[44.15,0.33],[44.25,0.07],[44.35,0.38],[44.48,0.49],
  [44.58,0.5],[44.7,0.49],[44.82,0.45],[44.95,0.49],[45.08,0.33],[45.2,0.44],[45.32,0.5],[45.45,0.4],[45.55,0.44],[45.65,0.49],[45.8,0.38],[45.92,0.44],
  [46.05,0.4],[46.2,0.45]
];

// ================= HELPERS =================
Chart.defaults.font.family = '"Liberation Sans", Arial, sans-serif';
Chart.defaults.font.size = 15;
Chart.defaults.color = '#111';
Chart.defaults.animation = false;
Chart.defaults.plugins.legend.display = false;
Chart.defaults.plugins.tooltip.enabled = false;

function jet(v){
  v = Math.max(0, Math.min(1, v));
  const c = k => Math.round(255 * Math.max(0, Math.min(1, 1.5 - Math.abs(4 * v - k))));
  return `rgb(${c(3)},${c(2)},${c(1)})`;
}
const pts = arr => arr.map(p => ({x: p[0], y: p[1]}));

// frame + inward tick marks
const framePlugin = {
  id: 'frame',
  afterDatasetsDraw(chart, args, o){
    const a = chart.chartArea, ctx = chart.ctx;
    ctx.save();
    ctx.strokeStyle = '#000';
    ctx.lineWidth = o.width || 2;
    ctx.strokeRect(a.left, a.top, a.right - a.left, a.bottom - a.top);
    const len = o.tick || 0;
    if(len){
      const xs = chart.scales.x, ys = chart.scales.y;
      ctx.lineWidth = 2;
      ctx.beginPath();
      xs.ticks.forEach(t => {
        const p = xs.getPixelForValue(t.value);
        ctx.moveTo(p, a.top); ctx.lineTo(p, a.top + len);
        ctx.moveTo(p, a.bottom); ctx.lineTo(p, a.bottom - len);
      });
      ys.ticks.forEach(t => {
        const p = ys.getPixelForValue(t.value);
        ctx.moveTo(a.left, p); ctx.lineTo(a.left + len, p);
        ctx.moveTo(a.right, p); ctx.lineTo(a.right - len, p);
      });
      ctx.stroke();
    }
    ctx.restore();
  }
};

// shaded window with dashed edges
const bandPlugin = {
  id: 'band',
  beforeDatasetsDraw(chart){
    const a = chart.chartArea, xs = chart.scales.x, ctx = chart.ctx;
    const x0 = xs.getPixelForValue(bandFrom), x1 = xs.getPixelForValue(bandTo);
    ctx.save();
    ctx.fillStyle = '#c8c8f8';
    ctx.fillRect(x0, a.top, x1 - x0, a.bottom - a.top);
    ctx.strokeStyle = '#555';
    ctx.lineWidth = 1.3;
    ctx.setLineDash([7, 4]);
    ctx.beginPath();
    ctx.moveTo(x0, a.top); ctx.lineTo(x0, a.bottom);
    ctx.moveTo(x1, a.top); ctx.lineTo(x1, a.bottom);
    ctx.stroke();
    ctx.restore();
  }
};

function xScale(grid, height, title){
  return {
    type: 'linear', min: 0, max: X_MAX, offset: false,
    afterBuildTicks: s => { s.ticks = xTicks.map(v => ({value: v})); },
    afterFit: s => { s.height = height; },
    ticks: {padding: 4, autoSkip: false, maxRotation: 0, callback: v => String(v)},
    grid: {display: grid, drawTicks: false, offset: false, color: '#555', lineWidth: 1},
    border: {display: false, dash: [1, 3]},
    title: title ? {display: true, text: title, font: {family: '"Liberation Serif", serif', size: 18}, padding: {top: 0, bottom: 0}} : {display: false}
  };
}
function yScale(min, max, ticks, title, tpad, grid, font, labels){
  return {
    type: 'linear', min: min, max: max,
    afterBuildTicks: s => { s.ticks = ticks.map(v => ({value: v})); },
    afterFit: s => { s.width = 110; },
    ticks: {padding: 7, callback: (v, i) => labels ? labels[i] : String(v)},
    grid: {display: grid, drawTicks: false, color: '#555', lineWidth: 1},
    border: {display: false, dash: [1, 3]},
    title: title ? {display: true, text: title, font: font || {size: 15}, padding: {top: tpad, bottom: 0}} : {display: false}
  };
}
const pad = {top: 4, right: 5, left: 0, bottom: 0};

// ================= (a) DATA =================
// each stroke spans the swing from one extreme to the next
new Chart(document.getElementById('ca'), {
  type: 'bar',
  data: {datasets: [
    {type: 'scatter', data: pts(greenMarks), pointStyle: 'triangle', rotation: 180, pointRadius: 5,
     backgroundColor: '#2ef000', borderColor: '#b8f000', borderWidth: 1},
    {type: 'line', data: coreAmp.map((v, i) => ({x: i, y: v})), borderWidth: 0, borderColor: 'red', backgroundColor: 'red', pointRadius: 0, fill: '+1'},
    {type: 'line', data: coreAmp.map((v, i) => ({x: i, y: -v})), borderWidth: 0, borderColor: 'red', pointRadius: 0, fill: false},
    {type: 'bar', data: sigPeaks.map((v, i) => ({x: i * SIG_STEP, y: [i ? sigPeaks[i - 1] : 0, v]})),
     backgroundColor: 'rgba(255,0,0,0.78)', borderWidth: 0, barThickness: 1.6, grouped: false}
  ]},
  options: {
    responsive: false, layout: {padding: pad},
    scales: {
      x: xScale(false, 24),
      y: yScale(-1150, 1160, [-1000, 0, 1000], 'Data', 44, false)
    },
    plugins: {frame: {tick: 6}}
  },
  plugins: [bandPlugin, framePlugin]
});

// ================= (b)(c)(d) SCATTER =================
function scatterPanel(id, red, gray, y){
  return new Chart(document.getElementById(id), {
    type: 'scatter',
    data: {datasets: [
      {data: pts(red), backgroundColor: '#ff0000', pointRadius: 2, borderWidth: 0},
      {data: pts(gray), backgroundColor: '#9a9a9a', pointRadius: 1.8, borderWidth: 0}
    ]},
    options: {
      responsive: false, layout: {padding: pad},
      scales: {x: xScale(true, 24), y: y},
      plugins: {frame: {tick: 6}}
    },
    plugins: [bandPlugin, framePlugin]
  });
}
scatterPanel('cb', rRed, rGray, yScale(0.6, 1.0, [0.6, 0.8, 1], 'r', 58, true, {size: 16}));
scatterPanel('cc', bRed, bGray, yScale(-1.1, 2.9, [-1, 0, 1, 2], 'β', 66, true, {family: '"Liberation Serif", serif', size: 18}));
scatterPanel('cd', aRed, aGray, yScale(4.29, 8.24, [6, 8], 'log₁₀α', 70, true, {size: 15}));

// ================= COLOUR BAR =================
new Chart(document.getElementById('cbar'), {
  type: 'bar',
  data: {labels: ['H'], datasets: [{
    data: [[-0.003, 0.503]], barPercentage: 1, categoryPercentage: 1, borderWidth: 0,
    backgroundColor: c => {
      const ch = c.chart;
      if(!ch.chartArea) return 'blue';
      const xs = ch.scales.x;
      const g = ch.ctx.createLinearGradient(xs.getPixelForValue(0), 0, xs.getPixelForValue(H_MAX), 0);
      for(let k = 0; k < 64; k++){
        const col = jet((k + 0.5) / 64);
        g.addColorStop(k / 64, col);
        g.addColorStop((k + 1) / 64, col);
      }
      return g;
    }
  }]},
  options: {
    responsive: false, indexAxis: 'y',
    layout: {padding: {left: 110, right: 5, top: 0, bottom: 2}},
    scales: {
      x: {
        type: 'linear', position: 'top', min: -0.003, max: 0.503,
        afterBuildTicks: s => { s.ticks = cbTicks.map(v => ({value: v})); },
        afterFit: s => { s.height = 23; },
        ticks: {padding: 3, autoSkip: false, maxRotation: 0, font: {size: 16}, callback: v => String(v)},
        grid: {drawTicks: false, color: 'rgba(0,0,0,0.55)', lineWidth: 1, z: 1},
        border: {display: false}
      },
      y: {display: false}
    },
    plugins: {frame: {width: 1}}
  },
  plugins: [framePlugin]
});

// ================= (e) H =================
new Chart(document.getElementById('ce'), {
  type: 'bar',
  data: {datasets: [{
    data: hStripes.map(s => ({x: s[0], y: [0, 1]})),
    backgroundColor: hStripes.map(s => jet(s[1] / H_MAX)),
    barThickness: 1.6, borderWidth: 0, grouped: false
  }]},
  options: {
    responsive: false, layout: {padding: pad},
    scales: {
      x: xScale(false, 55, 'Time (min)'),
      y: yScale(0, 1, [0.5], null, 0, false, null, ['H'])
    },
    plugins: {frame: {tick: 6}}
  },
  plugins: [framePlugin]
});
</script>
</body>
</html>
